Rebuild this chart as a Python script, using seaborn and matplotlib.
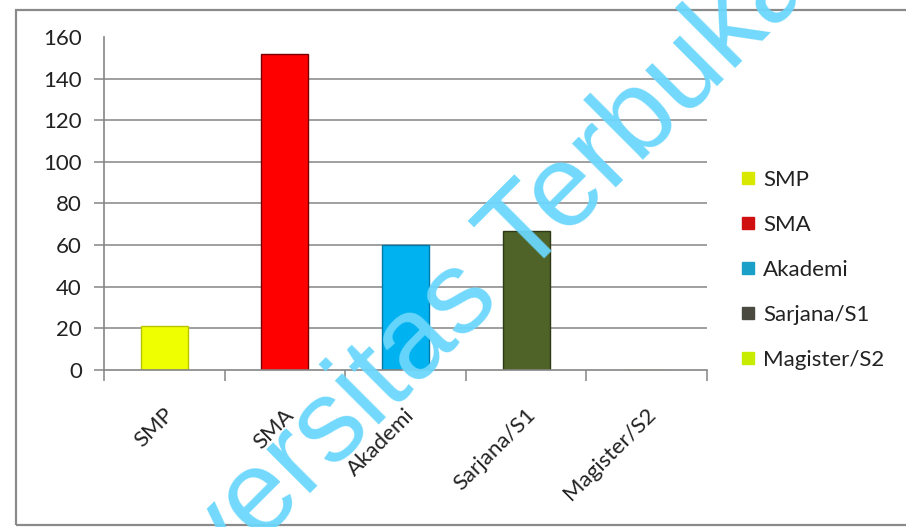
import matplotlib
matplotlib.use("Agg")
import matplotlib.pyplot as plt
import matplotlib.transforms as mtransforms
from matplotlib.lines import Line2D
from matplotlib.patches import Rectangle
import seaborn as sns
import pandas as pd

# ---- data ----
categories = ["SMP", "SMA", "Akademi", "Sarjana/S1", "Magister/S2"]
values = [21, 152, 60, 67, 0]
bar_colors = ["#EFFF00", "#FF0000", "#00B2F0", "#4F6228", "#CCF200"]
edge_colors = ["#B8C400", "#7A0000", "#0078A8", "#2E3A16", "#9ABF00"]
legend_colors = ["#D8E800", "#D01010", "#1AA0C8", "#4A4A40", "#C8EC00"]
y_ticks = [0, 20, 40, 60, 80, 100, 120, 140, 160]
watermark = "Universitas Terbuka"

W, H = 906, 527
sns.set_theme(style="white")
plt.rcParams['font.family'] = ['Lato', 'DejaVu Sans']

fig = plt.figure(figsize=(W / 100, H / 100), dpi=100)
fig.patch.set_facecolor("white")
ax = fig.add_axes([104 / W, 1 - 370 / H, (707 - 104) / W, (370 - 37) / H])

df = pd.DataFrame({"Pendidikan": categories, "Jumlah": values})
sns.barplot(data=df, x="Pendidikan", y="Jumlah", hue="Pendidikan",
            palette=dict(zip(categories, bar_colors)), order=categories,
            hue_order=categories, width=0.39, saturation=1, legend=False, ax=ax)

for patch, ec in zip(ax.patches, edge_colors):
    patch.set_edgecolor(ec)
    patch.set_linewidth(1.0)
    patch.set_zorder(3)

gray = "#858585"
ax.set_xlim(-0.5, 4.5)
ax.set_ylim(0, 160)
ax.set_xlabel("")
ax.set_ylabel("")
for s in ["top", "right"]:
    ax.spines[s].set_visible(False)
for s in ["left", "bottom"]:
    ax.spines[s].set_color(gray)
    ax.spines[s].set_linewidth(1.2)
    ax.spines[s].set_zorder(4)

# gridlines (not at top)
ax.grid(False)
for v in y_ticks[1:-1]:
    ax.axhline(v, color=gray, lw=1.1, zorder=1)

ax.set_yticks(y_ticks)
ax.set_yticklabels([str(v) for v in y_ticks])
ax.tick_params(axis="y", length=7, width=1.1, color=gray, pad=9,
               labelsize=16, labelcolor="#222222", left=True)
ax.yaxis.get_major_ticks()[-1].tick1line.set_visible(False)

ax.set_xticks(range(len(categories)))
ax.set_xticklabels(categories, rotation=45, ha="right", va="center",
                   rotation_mode="anchor")
ax.set_xticks([i - 0.5 for i in range(len(categories) + 1)], minor=True)
ax.tick_params(axis="x", which="major", length=0, pad=30, labelsize=16,
               labelcolor="#222222")
ax.tick_params(axis="x", which="minor", length=8, width=1.1, color=gray,
               bottom=True)
offset = mtransforms.ScaledTranslation(6 / 100, 0, fig.dpi_scale_trans)
for lbl in ax.get_xticklabels():
    lbl.set_transform(lbl.get_transform() + offset)

# legend
handles = [Line2D([0], [0], marker="s", linestyle="none", markersize=8,
                  markerfacecolor=c, markeredgecolor=c) for c in legend_colors]
fig.legend(handles, categories, loc="center left",
           bbox_to_anchor=(721 / W, 1 - 270 / H), frameon=False,
           fontsize=16, labelspacing=1.12, handlelength=0.6,
           handletextpad=0.4, labelcolor="#222222")

# outer border
fig.patches.append(Rectangle((16 / W, 2 / H), 1.0, (H - 10 - 2) / H,
                             transform=fig.transFigure, fill=False,
                             ec="#8a8a8a", lw=1.6, zorder=0))

# watermark
fig.text(456 / W, 1 - 348 / H, watermark, rotation=45, rotation_mode="anchor",
         ha="center", va="baseline", fontsize=84, color="#6BD7FC", alpha=0.95,
         family=["Liberation Sans", "DejaVu Sans"], zorder=10)

fig.savefig("out.png", dpi=100)
